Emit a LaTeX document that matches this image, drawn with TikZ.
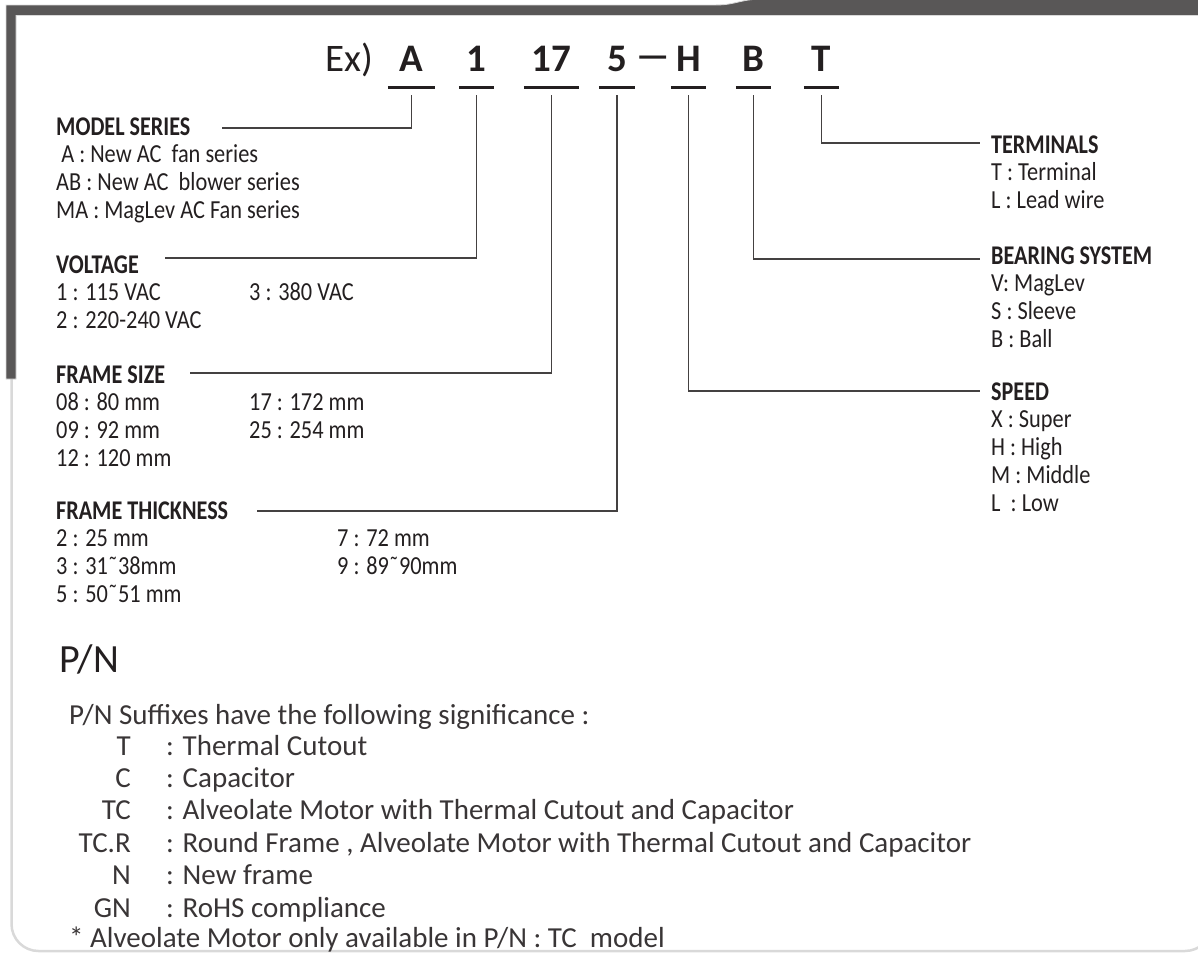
\documentclass[tikz,border=0pt]{standalone}
\usepackage{fontspec}
\usetikzlibrary{positioning}
\setmainfont{Carlito}
\newfontfamily\narrowfont{Carlito}[FakeStretch=0.82]
\newfontfamily\entryfont{Carlito}[FakeStretch=0.86]
\definecolor{ink}{HTML}{231F20}
\definecolor{band}{HTML}{595757}
\definecolor{rim}{HTML}{D9D9D9}

\begin{document}
\begin{tikzpicture}[x=1pt, y=-1pt,
    head/.style = {font=\narrowfont\bfseries\fontsize{27}{27}\selectfont, text=ink, inner sep=0pt, text height=20pt, text depth=7.5pt},
    entry/.style = {font=\entryfont\fontsize{26}{26}\selectfont, text=ink, inner sep=0pt, text height=20pt, text depth=7.5pt},
    under/.style = {below=0pt of #1.south west, anchor=north west},
    code/.style = {font=\bfseries\fontsize{39}{39}\selectfont, text=ink, inner sep=0pt, text height=25pt, text depth=16pt, anchor=base, minimum width=#1},
    bar/.style = {draw=ink, line width=3pt},
    lead/.style = {draw=ink!85, line width=1.2pt},
    sig/.style = {font=\fontsize{29}{29}\selectfont, text=ink!90, inner sep=0pt, text height=22pt, text depth=10pt}]
    \useasboundingbox (0,0) rectangle (1198,953);

    % frame
    \draw[rim, line width=2.5pt, rounded corners=27pt] (11.5,10) -- (11.5,951) -- (1212,951) -- (1212,10);
    \fill[band, draw=rim, line width=0.8pt] (6,5) -- (716,5) .. controls (736,5) and (740,-1) .. (764,-1) -- (1205,-1) -- (1205,15.5) -- (16,15.5) -- (16,379) -- (6,379) -- cycle;

    % example code
    \node[font=\fontsize{39}{39}\selectfont, text=ink, inner sep=0pt, anchor=base west] (ex) at (325,71) {Ex)};
    \node[code=47pt] (cA) at (411.5,71) {A};
    \node[code=35pt] (c1) at (476.5,71) {1};
    \node[code=55pt] (c17) at (551.5,71) {17};
    \node[code=36pt] (c5) at (617,71) {5};
    \node[font=\fontsize{50}{50}\selectfont, text=ink, inner sep=0pt, anchor=base] (dash) at (653.5,71) {\scalebox{1.5}[1]{–}};
    \node[code=35pt] (cH) at (688.5,71) {H};
    \node[code=35pt] (cB) at (753.5,71) {B};
    \node[code=35pt] (cT) at (821.5,71) {T};
    \draw[bar] (cA.south west) -- (cA.south east);
    \draw[bar] (c1.south west) -- (c1.south east);
    \draw[bar] (c17.south west) -- (c17.south east);
    \draw[bar] (c5.south west) -- (c5.south east);
    \draw[bar] (cH.south west) -- (cH.south east);
    \draw[bar] (cB.south west) -- (cB.south east);
    \draw[bar] (cT.south west) -- (cT.south east);

    % left column
    \node[head, anchor=base west] (model) at (56,135) {MODEL SERIES};
    \node[entry, under=model] (m1) {\ A : New AC\ \ fan series};
    \node[entry, under=m1] (m2) {AB : New AC\ \ blower series};
    \node[entry, under=m2] (m3) {MA : MagLev AC Fan series};

    \node[head, anchor=base west] (volt) at (56,273) {VOLTAGE};
    \node[entry, under=volt] (v1) {1 : 115 VAC};
    \node[entry, under=v1] (v2) {2 : 220-240 VAC};
    \node[entry, right=193pt of v1.base west, anchor=base west] (v3) {3 : 380 VAC};

    \node[head, anchor=base west] (fsize) at (56,383) {FRAME SIZE};
    \node[entry, under=fsize] (f1) {08 : 80 mm};
    \node[entry, under=f1] (f2) {09 : 92 mm};
    \node[entry, under=f2] (f3) {12 : 120 mm};
    \node[entry, right=193pt of f1.base west, anchor=base west] (f4) {17 : 172 mm};
    \node[entry, right=193pt of f2.base west, anchor=base west] (f5) {25 : 254 mm};

    \node[head, anchor=base west] (fthick) at (56,519) {FRAME THICKNESS};
    \node[entry, under=fthick] (k1) {2 : 25 mm};
    \node[entry, under=k1] (k2) {3 : 31\symbol{"02DC}38mm};
    \node[entry, under=k2] (k3) {5 : 50\symbol{"02DC}51 mm};
    \node[entry, right=281pt of k1.base west, anchor=base west] (k4) {7 : 72 mm};
    \node[entry, right=281pt of k2.base west, anchor=base west] (k5) {9 : 89\symbol{"02DC}90mm};

    % right column
    \node[head, anchor=base west] (term) at (991,153) {TERMINALS};
    \node[entry, under=term] (t1) {T : Terminal};
    \node[entry, under=t1] (t2) {L : Lead wire};

    \node[head, anchor=base west] (bear) at (991,264) {BEARING SYSTEM};
    \node[entry, under=bear] (b1) {V: MagLev};
    \node[entry, under=b1] (b2) {S : Sleeve};
    \node[entry, under=b2] (b3) {B : Ball};

    \node[head, anchor=base west] (speed) at (991,400) {SPEED};
    \node[entry, under=speed] (s1) {X : Super};
    \node[entry, under=s1] (s2) {H : High};
    \node[entry, under=s2] (s3) {M : Middle};
    \node[entry, under=s3] (s4) {L\ \ : Low};

    % leads
    \coordinate (mEnd) at (222,128);
    \coordinate (vEnd) at (165,258);
    \coordinate (fEnd) at (190,373);
    \coordinate (kEnd) at (257,511);
    \coordinate (sEnd) at (980,391);
    \coordinate (bEnd) at (980,259);
    \coordinate (tEnd) at (980,143);
    \draw[lead] ([yshift=-8pt]cA.south) |- (mEnd);
    \draw[lead] ([yshift=-8pt]c1.south) |- (vEnd);
    \draw[lead] ([yshift=-8pt]c17.south) |- (fEnd);
    \draw[lead] ([yshift=-8pt]c5.south) |- (kEnd);
    \draw[lead] ([yshift=-8pt]cH.south) |- (sEnd);
    \draw[lead] ([yshift=-8pt]cB.south) |- (bEnd);
    \draw[lead] ([yshift=-8pt]cT.south) |- (tEnd);

    % P/N suffixes
    \node[font=\fontsize{40}{40}\selectfont, text=ink, inner sep=0pt, anchor=base west] (pn) at (59,672) {P/N};
    \node[sig, anchor=base west] (sfx) at (69,724) {P/N Suffixes have the following significance :};
    \node[sig, anchor=base west] (r1) at (166,755) {: Thermal Cutout};
    \node[sig, under=r1] (r2) {: Capacitor};
    \node[sig, under=r2] (r3) {: Alveolate Motor with Thermal Cutout and Capacitor};
    \node[sig, under=r3] (r4) {: Round Frame , Alveolate Motor with Thermal Cutout and Capacitor};
    \node[sig, under=r4] (r5) {: New frame};
    \node[sig, under=r5] (r6) {: RoHS compliance};
    \node[sig, left=35pt of r1.base west, anchor=base east] (p1) {T};
    \node[sig, left=35pt of r2.base west, anchor=base east] (p2) {C};
    \node[sig, left=35pt of r3.base west, anchor=base east] (p3) {TC};
    \node[sig, left=35pt of r4.base west, anchor=base east] (p4) {TC.R};
    \node[sig, left=35pt of r5.base west, anchor=base east] (p5) {N};
    \node[sig, left=35pt of r6.base west, anchor=base east] (p6) {GN};
    \node[sig, anchor=base west] (note) at (69,947) {* Alveolate Motor only available in P/N : TC\ \ model};
\end{tikzpicture}
\end{document}
